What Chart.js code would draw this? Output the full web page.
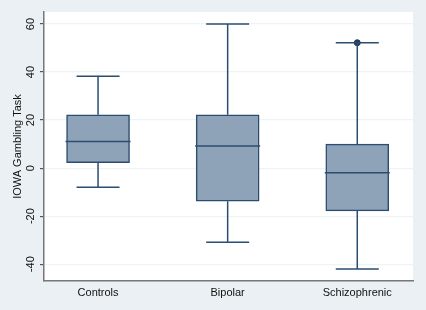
<!DOCTYPE html>
<html>
<head>
<meta charset="utf-8"/>
<script src="https://cdn.jsdelivr.net/npm/chart.js@4/dist/chart.umd.min.js"></script>
<style>
  body { margin: 0; background: #eaf0f3; }
  #wrap { width: 426px; height: 310px; position: relative; }
</style>
</head>
<body>
<div id="wrap"><canvas id="c" width="426" height="310"></canvas></div>
<script>
// groups and their box plot summaries
var groups = ["Controls", "Bipolar", "Schizophrenic"];
var groupPos = [1, 2, 3];
var lowWhisker = [-8, -30.9, -42];
var q1 = [2.3, -13.8, -17.8];
var median = [11.1, 9.2, -1.9];
var q3 = [22.2, 22.2, 10];
var highWhisker = [38.2, 60, 52.2];
var outliers = [{ x: 3, y: 52.2 }];
var yTicks = [-40, -20, 0, 20, 40, 60];

var boxFill = "#8fa3b8";
var boxLine = "#2b4d71";

var boxes = groupPos.map(function (p, i) { return { x: p, y: [q1[i], q3[i]] }; });

// whiskers, caps and medians drawn with the chart's scales
var whiskerPlugin = {
  id: "whiskers",
  afterDatasetsDraw: function (chart) {
    var xs = chart.scales.x, ys = chart.scales.y, ctx = chart.ctx;
    ctx.save();
    ctx.strokeStyle = boxLine;
    ctx.lineWidth = 1.5;
    groupPos.forEach(function (p, i) {
      var cx = xs.getPixelForValue(p);
      ctx.beginPath();
      ctx.moveTo(cx, ys.getPixelForValue(q3[i]));
      ctx.lineTo(cx, ys.getPixelForValue(highWhisker[i]));
      ctx.moveTo(cx, ys.getPixelForValue(q1[i]));
      ctx.lineTo(cx, ys.getPixelForValue(lowWhisker[i]));
      var hy = ys.getPixelForValue(highWhisker[i]), ly = ys.getPixelForValue(lowWhisker[i]);
      ctx.moveTo(cx - 21.5, hy); ctx.lineTo(cx + 21.5, hy);
      ctx.moveTo(cx - 21.5, ly); ctx.lineTo(cx + 21.5, ly);
      var my = ys.getPixelForValue(median[i]);
      ctx.moveTo(cx - 32.5, my); ctx.lineTo(cx + 32.5, my);
      ctx.stroke();
    });
    ctx.restore();
  }
};

var bgPlugin = {
  id: "bg",
  beforeDraw: function (chart) {
    var a = chart.chartArea, ctx = chart.ctx;
    ctx.save();
    ctx.fillStyle = "#eaf0f3";
    ctx.fillRect(0, 0, chart.width, chart.height);
    ctx.fillStyle = "#ffffff";
    ctx.fillRect(a.left, a.top, a.right - a.left, a.bottom - a.top);
    ctx.restore();
  }
};

new Chart(document.getElementById("c"), {
  type: "bar",
  data: {
    datasets: [
      {
        type: "bar",
        data: boxes,
        backgroundColor: boxFill,
        borderColor: boxLine,
        borderWidth: 1.5,
        borderSkipped: false,
        barThickness: 63
      },
      {
        type: "scatter",
        data: outliers,
        pointRadius: 3,
        pointBackgroundColor: "#1f3b5c",
        pointBorderColor: "#1f3b5c"
      }
    ]
  },
  options: {
    responsive: false,
    animation: false,
    events: [],
    layout: { padding: { top: 12, right: 13, left: 0, bottom: 0 } },
    plugins: { legend: { display: false }, tooltip: { enabled: false } },
    scales: {
      x: {
        type: "linear",
        offset: false,
        min: 0.583,
        max: 3.43,
        afterBuildTicks: function (s) { s.ticks = groupPos.map(function (v) { return { value: v }; }); },
        afterFit: function (s) { s.height = 29; },
        grid: { display: false, drawTicks: false },
        border: { display: true, color: "#777", width: 1.5 },
        ticks: {
          padding: 5,
          color: "#111",
          font: { family: "Liberation Sans", size: 11 },
          callback: function (v) { return groups[groupPos.indexOf(v)]; }
        }
      },
      y: {
        min: -47,
        max: 65,
        afterBuildTicks: function (s) { s.ticks = yTicks.map(function (v) { return { value: v }; }); },
        afterFit: function (s) { s.width = 44; },
        grid: { color: "#eef3f5", lineWidth: 1.2, tickColor: "#555", tickLength: 4 },
        border: { display: true, color: "#777", width: 1.5 },
        ticks: {
          minRotation: 90,
          maxRotation: 90,
          crossAlign: "center",
          padding: 1,
          color: "#111",
          font: { family: "Liberation Sans", size: 11 }
        },
        title: {
          display: true,
          text: "IOWA Gambling Task",
          color: "#111",
          padding: { top: 11, bottom: 0 },
          font: { family: "Liberation Sans", size: 11 }
        }
      }
    }
  },
  plugins: [bgPlugin, whiskerPlugin]
});
</script>
</body>
</html>
